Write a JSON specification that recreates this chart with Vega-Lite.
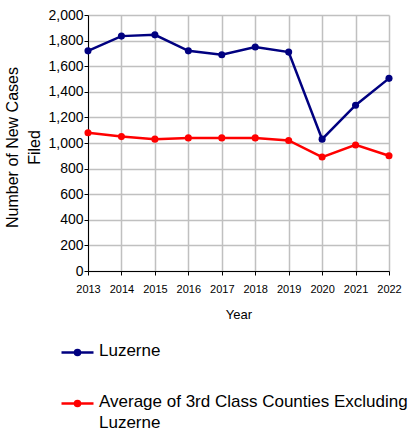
{
  "$schema": "https://vega.github.io/schema/vega-lite/v6.json",
  "width": 301,
  "height": 256,
  "autosize": {"type": "none"},
  "padding": {"left": 88, "top": 15, "right": 20, "bottom": 161},
  "background": "white",
  "config": {"view": {"stroke": null}, "font": "Liberation Sans"},
  "data": {
    "values": [
      {"year": "2013", "series": "Luzerne", "cases": 1720},
      {"year": "2014", "series": "Luzerne", "cases": 1835},
      {"year": "2015", "series": "Luzerne", "cases": 1845},
      {"year": "2016", "series": "Luzerne", "cases": 1720},
      {"year": "2017", "series": "Luzerne", "cases": 1690},
      {"year": "2018", "series": "Luzerne", "cases": 1750},
      {"year": "2019", "series": "Luzerne", "cases": 1710},
      {"year": "2020", "series": "Luzerne", "cases": 1030},
      {"year": "2021", "series": "Luzerne", "cases": 1295},
      {"year": "2022", "series": "Luzerne", "cases": 1505},
      {"year": "2013", "series": "Average of 3rd Class Counties Excluding Luzerne", "cases": 1080},
      {"year": "2014", "series": "Average of 3rd Class Counties Excluding Luzerne", "cases": 1050},
      {"year": "2015", "series": "Average of 3rd Class Counties Excluding Luzerne", "cases": 1030},
      {"year": "2016", "series": "Average of 3rd Class Counties Excluding Luzerne", "cases": 1040},
      {"year": "2017", "series": "Average of 3rd Class Counties Excluding Luzerne", "cases": 1040},
      {"year": "2018", "series": "Average of 3rd Class Counties Excluding Luzerne", "cases": 1040},
      {"year": "2019", "series": "Average of 3rd Class Counties Excluding Luzerne", "cases": 1020},
      {"year": "2020", "series": "Average of 3rd Class Counties Excluding Luzerne", "cases": 890},
      {"year": "2021", "series": "Average of 3rd Class Counties Excluding Luzerne", "cases": 985},
      {"year": "2022", "series": "Average of 3rd Class Counties Excluding Luzerne", "cases": 900}
    ]
  },
  "mark": {"type": "line", "strokeWidth": 2.5, "point": {"filled": true, "size": 50}},
  "encoding": {
    "x": {
      "field": "year",
      "type": "ordinal",
      "scale": {"type": "point", "padding": 0},
      "axis": {
        "title": "Year",
        "labelAngle": 0,
        "grid": true,
        "gridColor": "#c0c0c0",
        "gridWidth": 1.5,
        "domainColor": "black",
        "tickColor": "black",
        "tickSize": 4,
        "labelFontSize": 11,
        "labelColor": "black",
        "labelPadding": 8,
        "titleFontSize": 13,
        "titleFontWeight": "normal",
        "titleColor": "black",
        "titleBaseline": "alphabetic",
        "titleY": 47
      }
    },
    "y": {
      "field": "cases",
      "type": "quantitative",
      "scale": {"domain": [0, 2000]},
      "axis": {
        "values": [0, 200, 400, 600, 800, 1000, 1200, 1400, 1600, 1800, 2000],
        "format": ",.0f",
        "grid": true,
        "gridColor": "#c0c0c0",
        "gridWidth": 1.5,
        "domainColor": "black",
        "tickColor": "black",
        "tickSize": 4,
        "labelFontSize": 14,
        "labelColor": "black",
        "labelPadding": 1,
        "title": ["Number of New Cases", "Filed"],
        "titleFontSize": 16,
        "titleFontWeight": "normal",
        "titleColor": "black",
        "titleBaseline": "top",
        "titleAlign": "center",
        "titleLineHeight": 22,
        "titleX": -84,
        "titleY": 132
      }
    },
    "color": {
      "field": "series",
      "type": "nominal",
      "sort": null,
      "scale": {
        "domain": ["Luzerne", "Average of 3rd Class Counties Excluding Luzerne"],
        "range": ["#000080", "#ff0000"]
      },
      "legend": {
        "orient": "none",
        "legendX": -28,
        "legendY": 320,
        "title": null,
        "padding": 0,
        "symbolType": "M-1,0L1,0M-0.16,0A0.16,0.16,0,1,0,0.16,0A0.16,0.16,0,1,0,-0.16,0Z",
        "symbolSize": 1024,
        "symbolStrokeWidth": 2.5,
        "labelFontSize": 17,
        "labelColor": "black",
        "labelLimit": 400,
        "labelOffset": 4,
        "labelBaseline": "top",
        "rowPadding": 25,
        "labelExpr": "datum.label == 'Luzerne' ? 'Luzerne' : ['Average of 3rd Class Counties Excluding', 'Luzerne']",
        "encode": {
          "labels": {"update": {"dy": {"value": -9.5}, "lineHeight": {"value": 21}}},
          "symbols": {"update": {"fill": {"scale": "color", "field": "value"}}}
        }
      }
    }
  }
}
